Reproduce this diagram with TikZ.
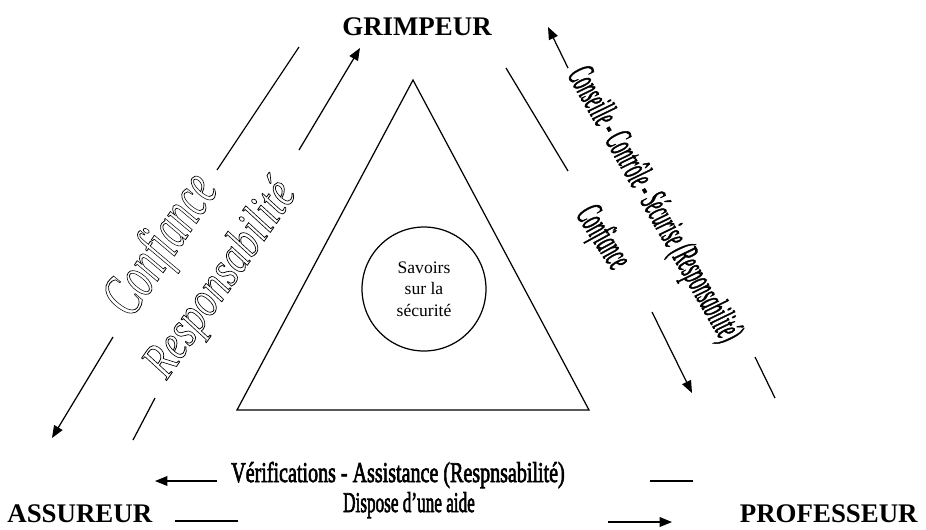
\documentclass[tikz,border=0pt]{standalone}
\usepackage{fontspec}
\setmainfont{Liberation Serif}
\usepackage{tikz}
\usetikzlibrary{arrows.meta, positioning}
\newcommand{\hollowtext}[1]{\special{pdf:literal direct 1 Tr 0.45 w}#1\special{pdf:literal direct 0 Tr 0.4 w}}
\newcommand{\heavytext}[1]{\special{pdf:literal direct 2 Tr 0.45 w}#1\special{pdf:literal direct 0 Tr 0.4 w}}

\begin{document}
\begin{tikzpicture}[x=0.02cm, y=-0.02cm,
    seg/.style={line width=0.7pt},
    arr/.style={seg, -{Triangle[length=7pt, width=5.5pt]}},
    role/.style={inner sep=0, font=\fontsize{15.3}{18}\selectfont\bfseries},
    wordart/.style={inner sep=0, font=\fontsize{#1}{#1}\selectfont\itshape},
    bottomtext/.style={inner sep=0, font=\fontsize{16.3}{18}\selectfont}]
    \useasboundingbox (0,0) rectangle (926,529);

    % les trois acteurs
    \node[role, anchor=base] (grimpeur) at (417,35) {GRIMPEUR};
    \node[role, anchor=base west] (assureur) at (7,522) {ASSUREUR};
    \node[role, anchor=base east] (professeur) at (918,522) {PROFESSEUR};

    % triangle central
    \coordinate (apex) at (413,80);
    \coordinate (basG) at (237,410);
    \coordinate (basD) at (589,410);
    \draw[seg] (apex) -- (basG) -- (basD) -- cycle;
    \node[circle, draw, line width=0.7pt, minimum size=2.48cm, inner sep=0, align=center,
          font=\fontsize{10}{12.2}\selectfont] (savoirs) at (424,289) {Savoirs\\sur la\\sécurité};

    % extremites des traits
    \coordinate (g1) at (299,47);   \coordinate (g2) at (217,170);
    \coordinate (g3) at (113,337);  \coordinate (g4) at (52,438);
    \coordinate (g5) at (299,150);  \coordinate (g6) at (360,48);
    \coordinate (g7) at (155,398);  \coordinate (g8) at (133,440);
    \coordinate (d1) at (506,68);   \coordinate (d2) at (568,171);
    \coordinate (d3) at (652,312);  \coordinate (d4) at (692,393);
    \coordinate (d5) at (568,68);   \coordinate (d6) at (548,27);
    \coordinate (d7) at (755,357);  \coordinate (d8) at (775,398);
    \coordinate (b1) at (217,481);  \coordinate (b2) at (155,481);
    \coordinate (b3) at (650,481);  \coordinate (b4) at (693,481);
    \coordinate (b5) at (175,521);  \coordinate (b6) at (238,521);
    \coordinate (b7) at (608,522);  \coordinate (b8) at (672,522);

    % cote gauche
    \draw[seg] (g1) -- (g2);
    \draw[arr] (g3) -- (g4);
    \draw[arr] (g5) -- (g6);
    \draw[seg] (g7) -- (g8);
    \node[wordart=35, rotate=56, xscale=0.62] (confianceG) at (163,246) {\hollowtext{Confiance}};
    \node[wordart=29, rotate=55, xscale=0.76] (respG) at (222,280) {\hollowtext{Responsabilité}};

    % cote droit
    \draw[seg] (d1) -- (d2);
    \draw[arr] (d3) -- (d4);
    \draw[arr] (d5) -- (d6);
    \draw[seg] (d7) -- (d8);
    \node[wordart=22, rotate=-60, xscale=0.42] (conseil) at (653,205) {\heavytext{Conseille - Contrôle - Sécurise (Responsabilité)}};
    \node[wordart=22, rotate=-57, xscale=0.43] (confianceD) at (602,238) {\heavytext{Confiance}};

    % bas
    \draw[arr] (b1) -- (b2);
    \draw[seg] (b3) -- (b4);
    \draw[seg] (b5) -- (b6);
    \draw[arr] (b7) -- (b8);
    \node[bottomtext, anchor=base, xscale=0.7] (verif) at (398,482) {\heavytext{Vérifications - Assistance (Respnsabilité)}};
    \node[bottomtext, anchor=base, xscale=0.6] (aide) at (409,512) {\heavytext{Dispose d'une aide}};
\end{tikzpicture}
\end{document}
